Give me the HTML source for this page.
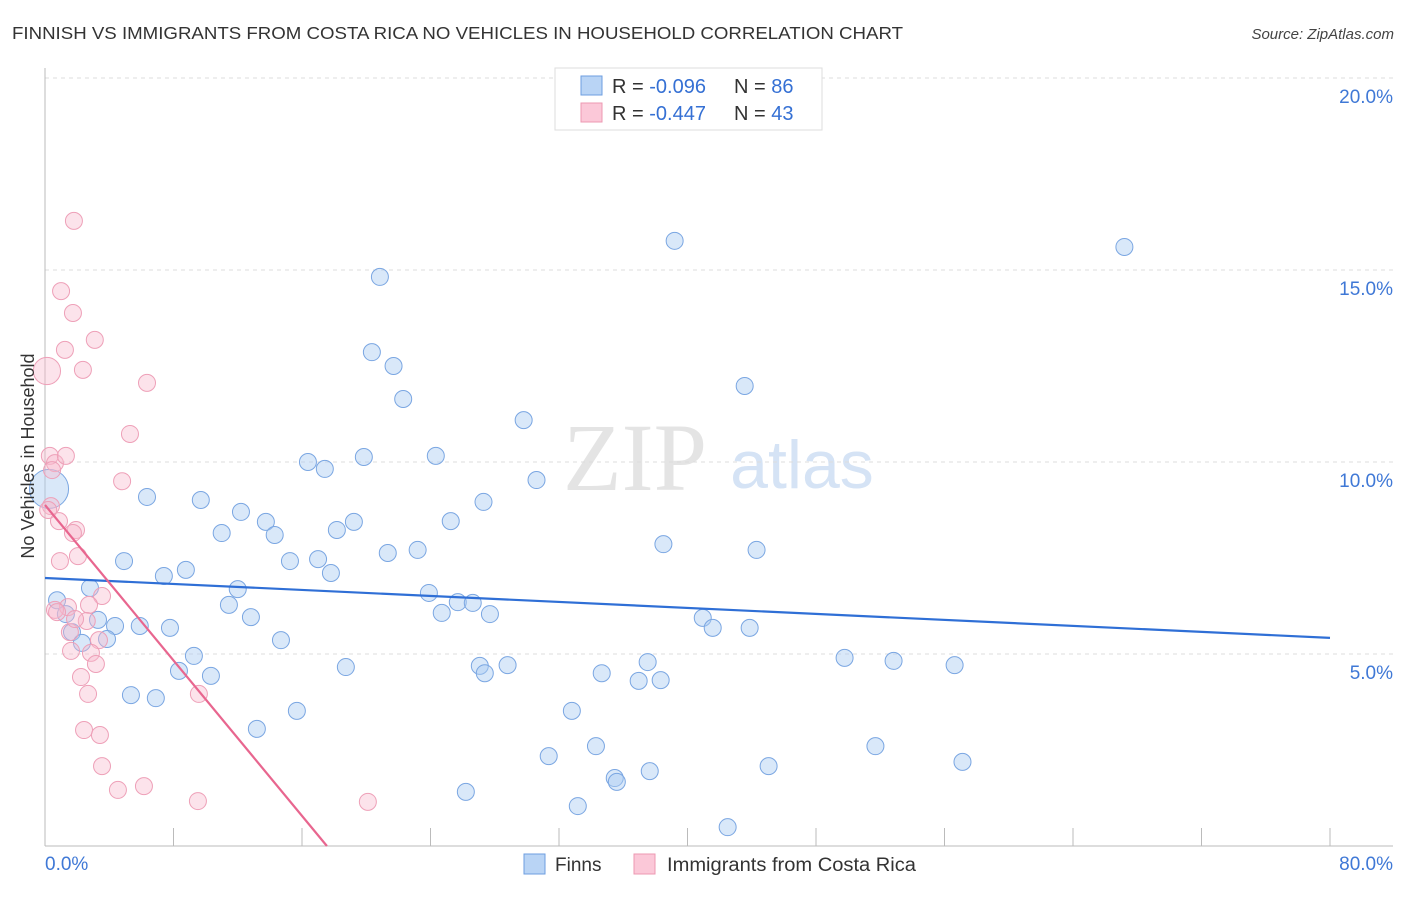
<!DOCTYPE html>
<html><head><meta charset="utf-8"><style>
body{margin:0;background:#fff;font-family:"Liberation Sans",sans-serif}
</style></head><body>
<svg width="1406" height="892" xmlns="http://www.w3.org/2000/svg" id="chart">
<text x="12" y="39" font-size="17.5" fill="#333" textLength="891" lengthAdjust="spacingAndGlyphs">FINNISH VS IMMIGRANTS FROM COSTA RICA NO VEHICLES IN HOUSEHOLD CORRELATION CHART</text>
<text x="1394" y="39" font-size="15" fill="#444" font-style="italic" text-anchor="end">Source: ZipAtlas.com</text>
<g>
<text x="635" y="490" font-family="Liberation Serif,serif" font-size="96" fill="#e4e4e4" text-anchor="middle">ZIP</text>
<text x="802" y="488" font-size="68" fill="#d5e3f5" text-anchor="middle">atlas</text>
</g>
<g id="grid"></g>
<g id="axes"></g>
<g id="points"></g>
<g id="trends"></g>
<text transform="translate(34,456) rotate(-90)" font-size="18" fill="#333" text-anchor="middle">No Vehicles in Household</text>
<g>
<rect x="555" y="68" width="267" height="62" fill="#fff" stroke="#ddd"/>
<rect x="581" y="76" width="21" height="19" fill="#b9d4f5" stroke="#6d9ee0"/>
<rect x="581" y="103" width="21" height="19" fill="#fbc8d8" stroke="#ec98b2"/>
<text x="612" y="93" font-size="20" fill="#333">R = <tspan fill="#3570d4">-0.096</tspan></text>
<text x="734" y="93" font-size="20" fill="#333">N = <tspan fill="#3570d4">86</tspan></text>
<text x="612" y="120" font-size="20" fill="#333">R = <tspan fill="#3570d4">-0.447</tspan></text>
<text x="734" y="120" font-size="20" fill="#333">N = <tspan fill="#3570d4">43</tspan></text>
</g>
<g>
<rect x="524" y="854" width="21" height="20" fill="#b9d4f5" stroke="#6d9ee0"/>
<text x="555" y="871" font-size="19" fill="#333">Finns</text>
<rect x="634" y="854" width="21" height="20" fill="#fbc8d8" stroke="#ec98b2"/>
<text x="667" y="871" font-size="19" fill="#333" textLength="249" lengthAdjust="spacingAndGlyphs">Immigrants from Costa Rica</text>
</g>
</svg>
<script>
const xTicks=[0,8,16,24,32,40,48,56,64,72,80];
const yTicks=[5,10,15,20];
const yTickLabels=["5.0%","10.0%","15.0%","20.0%"];
const finnsX=[39.2,67.2,20.85,20.35,21.7,22.3,43.56,29.8,16.37,17.42,19.85,24.33,30.6,6.35,9.7,27.3,12.2,19.23,25.26,13.75,11.0,14.3,18.17,38.5,44.3,21.34,23.2,4.92,15.25,17.0,7.4,8.77,17.8,12.0,23.9,2.8,0.75,1.3,3.3,11.45,25.7,26.63,27.7,24.7,12.82,40.95,41.57,43.87,4.36,5.9,7.78,1.68,3.86,2.3,14.69,9.27,49.78,52.83,56.63,18.73,28.8,27.07,27.38,34.66,37.52,36.96,38.33,8.34,10.33,5.35,6.9,15.68,32.8,13.19,51.7,34.3,31.36,45.05,57.12,37.65,35.47,35.6,26.2,33.17,42.5,0.25];
const finnsY=[15.76,15.6,14.82,12.86,12.5,11.64,11.98,11.09,10.0,9.82,10.13,10.16,9.53,9.09,9.01,8.96,8.7,8.44,8.46,8.44,8.15,8.1,8.23,7.86,7.71,7.63,7.71,7.42,7.42,7.47,7.03,7.19,7.11,6.69,6.59,6.72,6.4,6.04,5.89,6.28,6.35,6.33,6.04,6.07,5.96,5.94,5.68,5.68,5.73,5.73,5.68,5.57,5.39,5.29,5.36,4.95,4.9,4.82,4.71,4.66,4.71,4.69,4.5,4.5,4.79,4.3,4.32,4.56,4.43,3.93,3.85,3.52,3.52,3.05,2.6,2.6,2.34,2.08,2.19,1.95,1.77,1.67,1.41,1.04,0.49,9.3];
const finnsSize=finnsX.map((v,i)=>i===finnsX.length-1?2.3:1);
const crX=[1.8,1.0,1.74,3.1,1.24,2.36,0.12,6.35,5.29,0.3,0.62,1.3,4.8,0.37,0.2,0.87,1.93,1.74,0.93,2.05,1.43,0.62,3.55,2.74,2.6,1.55,3.36,2.86,1.62,3.17,2.24,2.68,9.58,2.43,3.42,3.55,4.54,6.16,9.52,20.1,0.75,1.87,0.44];
const crY=[16.28,14.45,13.88,13.18,12.92,12.4,12.37,12.06,10.73,10.16,9.97,10.16,9.5,8.85,8.75,8.46,8.23,8.15,7.42,7.55,6.22,6.15,6.51,6.28,5.86,5.57,5.36,5.03,5.08,4.74,4.4,3.96,3.96,3.02,2.89,2.08,1.46,1.56,1.17,1.15,6.09,5.91,9.79];
const crSize=crX.map((v,i)=>i===6?1.6:1);
const finnsTrend=[6.98,5.42];
const crTrend=[8.88,17.55];

const NS="http://www.w3.org/2000/svg";
const X=v=>45+v*(1285/80);
const Y=v=>846-v*38.4;
function mk(tag,attrs,parent){const e=document.createElementNS(NS,tag);for(const k in attrs)e.setAttribute(k,attrs[k]);parent.appendChild(e);return e;}
const grid=document.getElementById('grid'),axes=document.getElementById('axes'),pts=document.getElementById('points'),tr=document.getElementById('trends');
yTicks.forEach((t,i)=>{
 const l=mk('line',{x1:45,x2:1393,y1:Y(t),y2:Y(t),stroke:'#ddd','stroke-dasharray':'4,4'},grid);
 
 
 const tx=mk('text',{x:1393,y:Y(t)+25,'font-size':19,fill:'#3f78d6','text-anchor':'end'},axes);
 tx.textContent=yTickLabels[i];
 
 
});
const ax1=mk('line',{x1:45,x2:45,y1:68,y2:846,stroke:'#bbb'},axes);


const ax2=mk('line',{x1:45,x2:1393,y1:846,y2:846,stroke:'#bbb'},axes);


xTicks.forEach(t=>{
 const l=mk('line',{x1:X(t),x2:X(t),y1:828,y2:846,stroke:'#bbb'},axes);
 
 
});
const xl0=mk('text',{x:45,y:870,'font-size':19,fill:'#3f78d6'},axes);xl0.textContent=xTicks[0].toFixed(1)+'%';


const xl1=mk('text',{x:1393,y:870,'font-size':19,fill:'#3f78d6','text-anchor':'end'},axes);xl1.textContent=xTicks[xTicks.length-1].toFixed(1)+'%';


finnsX.forEach((v,i)=>{
 const c=mk('circle',{cx:X(v),cy:Y(finnsY[i]),r:8.5*finnsSize[i],fill:'rgba(170,203,242,0.45)',stroke:'#7aa6e2','stroke-width':1},pts);
 
 
});
crX.forEach((v,i)=>{
 const c=mk('circle',{cx:X(v),cy:Y(crY[i]),r:8.5*crSize[i],fill:'rgba(248,185,205,0.4)',stroke:'#eea0b8','stroke-width':1},pts);
 
 
});
const t1=mk('line',{x1:X(0),y1:Y(finnsTrend[0]),x2:X(80),y2:Y(finnsTrend[1]),stroke:'#2f6fd6','stroke-width':2.2},tr);


const t2=mk('line',{x1:X(0),y1:Y(crTrend[0]),x2:X(crTrend[1]),y2:Y(0),stroke:'#e8668f','stroke-width':2.2},tr);


</script>
</body></html>
